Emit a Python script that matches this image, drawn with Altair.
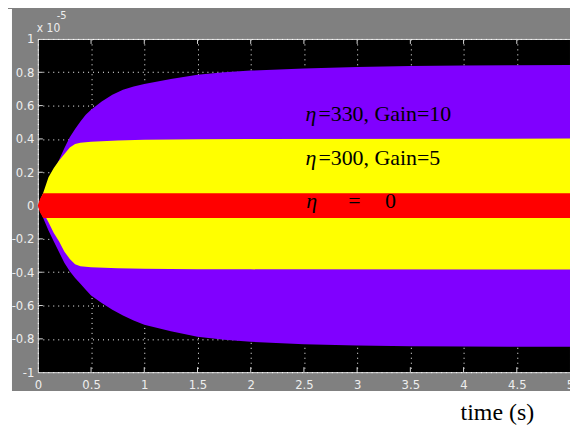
import altair as alt
import pandas as pd

# ---- data (y in units of 1e-5) ----
purple_t = [0, 0.05, 0.1, 0.15, 0.2, 0.25, 0.3, 0.35, 0.4, 0.45, 0.5, 0.6, 0.7, 0.8, 0.9, 1.0,
            1.25, 1.5, 1.75, 2.0, 2.5, 3.0, 3.5, 4.0, 4.5, 5.0]
purple_hi = [0, 0.07, 0.14, 0.21, 0.275, 0.345, 0.41, 0.46, 0.505, 0.545, 0.575, 0.625, 0.665, 0.695,
             0.715, 0.73, 0.76, 0.785, 0.80, 0.81, 0.823, 0.832, 0.837, 0.84, 0.842, 0.844]
purple_lo = [0, -0.075, -0.15, -0.215, -0.28, -0.345, -0.395, -0.435, -0.47, -0.505, -0.54, -0.585,
             -0.625, -0.66, -0.69, -0.715, -0.755, -0.787, -0.806, -0.818, -0.832, -0.84, -0.844,
             -0.846, -0.847, -0.848]

yellow_t = [0, 0.05, 0.1, 0.15, 0.2, 0.25, 0.3, 0.35, 0.4, 0.5, 0.75, 1.0, 1.5, 2.0, 5.0]
yellow_hi = [0, 0.075, 0.17, 0.225, 0.27, 0.31, 0.349, 0.37, 0.377, 0.383, 0.39, 0.395, 0.398, 0.4, 0.402]
yellow_lo = [0, -0.04, -0.1, -0.165, -0.215, -0.277, -0.32, -0.352, -0.365, -0.37, -0.377, -0.38,
             -0.382, -0.383, -0.384]

red_t = [0, 0.02, 0.05, 5.0]
red_hi = [0, 0.04, 0.074, 0.074]
red_lo = [0, -0.04, -0.075, -0.075]

x_ticks = [0, 0.5, 1, 1.5, 2, 2.5, 3, 3.5, 4, 4.5, 5]
y_ticks = [-1, -0.8, -0.6, -0.4, -0.2, 0, 0.2, 0.4, 0.6, 0.8, 1]
inner_x_ticks = [0.5, 1, 1.5, 2, 2.5, 3, 3.5, 4, 4.5]
inner_y_ticks = [-0.8, -0.6, -0.4, -0.2, 0, 0.2, 0.4, 0.6, 0.8]

# annotation texts: (t, value, text)
ann_eta_x = [2.514, 2.514, 2.523]
ann_eta_y = [0.510, 0.242, -0.015]
ann_rest_x = [2.636, 2.636]
ann_rest_y = [0.510, 0.242]
ann_rest_text = ["=330, Gain=10", "=300, Gain=5"]
ann3_x = [2.916, 3.262]
ann3_text = ["=", "0"]

W, H = 535, 335
SERIF = "Liberation Serif, Times New Roman, serif"
NARROW = "Liberation Sans Narrow, DejaVu Sans Condensed, Arial Narrow, sans-serif"
LABEL_COL = "#eeeeee"

purple_df = pd.DataFrame({"t": purple_t, "hi": purple_hi, "lo": purple_lo})
yellow_df = pd.DataFrame({"t": yellow_t, "hi": yellow_hi, "lo": yellow_lo})
red_df = pd.DataFrame({"t": red_t, "hi": red_hi, "lo": red_lo})

xs = alt.Scale(domain=[0, 5], nice=False, zero=False)
ys = alt.Scale(domain=[-1, 1], nice=False, zero=False)

x_axis = alt.Axis(values=x_ticks, labelExpr="datum.value + ''", grid=True, gridColor="#ffffff",
                  gridDash=[1, 4], gridOpacity=1, gridWidth=1, domain=False, ticks=False,
                  labelColor=LABEL_COL, labelFont=NARROW, labelFontSize=13, labelPadding=6,
                  labelFlush=False, labelOverlap=False, title=None)
y_axis = alt.Axis(values=y_ticks, labelExpr="datum.value + ''", grid=True, gridColor="#ffffff",
                  gridDash=[1, 4], gridOpacity=1, gridWidth=1, domain=False, ticks=False,
                  labelColor=LABEL_COL, labelFont=NARROW, labelFontSize=13, labelPadding=4,
                  labelOverlap=False, labelFlush=False, title=None)

def X(field):
    return alt.X(field, scale=xs, axis=x_axis)

def Y(field):
    return alt.Y(field, scale=ys, axis=y_axis)

one = pd.DataFrame({"a": [0]})

# white strips outside the gray frame
white_bottom = alt.Chart(one).mark_rect(color="#ffffff").encode(
    x=alt.value(-30), x2=alt.value(W + 10), y=alt.value(H + 19), y2=alt.value(H + 70))
white_left = alt.Chart(one).mark_rect(color="#ffffff").encode(
    x=alt.value(-30), x2=alt.value(-26), y=alt.value(-30), y2=alt.value(H + 19))

# inward tick marks
tick_top = alt.Chart(pd.DataFrame({"t": inner_x_ticks})).mark_rule(color="#d8d8d8").encode(
    x=X("t:Q"), y=alt.value(0), y2=alt.value(5))
tick_bot = alt.Chart(pd.DataFrame({"t": inner_x_ticks})).mark_rule(color="#d8d8d8").encode(
    x=X("t:Q"), y=alt.value(H - 5), y2=alt.value(H))
tick_left = alt.Chart(pd.DataFrame({"v": inner_y_ticks})).mark_rule(color="#d8d8d8").encode(
    y=Y("v:Q"), x=alt.value(0), x2=alt.value(5))

def band(df, color):
    return alt.Chart(df).mark_area(color=color, opacity=1, interpolate="linear").encode(
        x=X("t:Q"),
        y=Y("hi:Q"),
        y2="lo:Q",
    )

purple = band(purple_df, "#8000ff")
yellow = band(yellow_df, "#ffff00")
red = band(red_df, "#ff0000")

eta = alt.Chart(pd.DataFrame({"x": ann_eta_x, "y": ann_eta_y})).mark_text(
    text="η", font=SERIF, fontSize=22, fontStyle="italic", align="left", baseline="alphabetic",
    color="#000000").encode(x=X("x:Q"), y=Y("y:Q"))
rest = alt.Chart(pd.DataFrame({"x": ann_rest_x, "y": ann_rest_y, "s": ann_rest_text})).mark_text(
    font=SERIF, fontSize=22, align="left", baseline="alphabetic", color="#000000").encode(
    x=X("x:Q"), y=Y("y:Q"), text="s:N")
ann3 = alt.Chart(pd.DataFrame({"x": ann3_x, "y": [-0.015, -0.015], "s": ann3_text})).mark_text(
    font=SERIF, fontSize=22, align="left", baseline="alphabetic", color="#000000").encode(
    x=X("x:Q"), y=Y("y:Q"), text="s:N")

x10 = alt.Chart(one).mark_text(text="x 10", font=NARROW, fontSize=12, color=LABEL_COL,
                               align="left", baseline="alphabetic").encode(
    x=alt.value(-1), y=alt.value(-7))
exp5 = alt.Chart(one).mark_text(text="-5", font=NARROW, fontSize=11, color=LABEL_COL,
                                align="left", baseline="alphabetic").encode(
    x=alt.value(19), y=alt.value(-20))
xtitle = alt.Chart(one).mark_text(text="time (s)", font=SERIF, fontSize=24, color="#000000",
                                  align="left", baseline="alphabetic").encode(
    x=alt.value(425), y=alt.value(H + 48))

chart = alt.layer(
    white_bottom, white_left, tick_top, tick_bot, tick_left,
    purple, yellow, red, eta, rest, ann3, x10, exp5, xtitle
).properties(
    width=W, height=H,
    autosize=alt.AutoSizeParams(type="none"),
    padding={"left": 30, "top": 30, "right": 0, "bottom": 53},
    background="#808080",
).configure_view(fill="#000000", stroke="#e0e0e0", strokeWidth=1
).configure_axis(labelOverlap=False)

chart.save("out.html", embed_options={"renderer": "svg", "actions": False})
